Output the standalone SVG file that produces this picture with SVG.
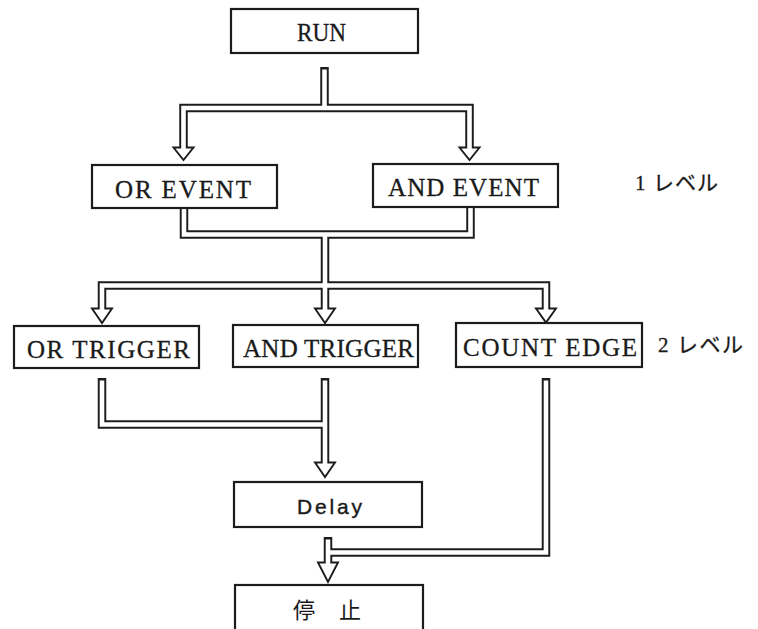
<svg xmlns="http://www.w3.org/2000/svg" width="758" height="629" viewBox="0 0 758 629">
  <style>
    .bg { fill: #ffffff; }
    .box { fill: #ffffff; stroke: #1c1c1c; stroke-width: 2.2; }
    .pipe-out { fill: none; stroke: #1c1c1c; stroke-width: 8.5; stroke-linejoin: miter; stroke-linecap: butt; }
    .pipe-in { fill: none; stroke: #ffffff; stroke-width: 4.6; stroke-linejoin: miter; stroke-linecap: butt; }
    .head { fill: #ffffff; stroke: #1c1c1c; stroke-width: 1.9; stroke-linejoin: miter; }
    .lbl { font-family: "Liberation Serif", "Times New Roman", serif; font-size: 25px; fill: #1a1a1a; stroke: #1a1a1a; stroke-width: 0.3; }
    .lbl-sans { font-family: "Liberation Sans", Arial, sans-serif; font-size: 21px; fill: #1a1a1a; stroke: #1a1a1a; stroke-width: 0.4; }
    .lbl-cjk { font-family: "Noto Sans CJK JP", sans-serif; font-size: 22px; fill: #1a1a1a; }
    .level { font-family: "Liberation Serif", "Noto Sans CJK JP", serif; font-size: 21px; fill: #1a1a1a; stroke: #1a1a1a; stroke-width: 0.3; }
  </style>

  <rect class="bg" x="0" y="0" width="758" height="629"/>

  <!-- double-line pipes: dark outer stroke, arrow heads, then white core -->
  <g id="connectors">
    <g class="pipe-out">
      <path d="M324.5,67 V108"/>
      <path d="M183.5,148 V108 H469.5 V148"/>
      <path d="M184,208 V234.5 H470.5 V207"/>
      <path d="M325,234.5 V309"/>
      <path d="M102,309 V285.5 H546 V309"/>
      <path d="M102,378 V424.5 H325"/>
      <path d="M325,378 V463"/>
      <path d="M328,537 V563"/>
      <path d="M546,378 V552.5 H328"/>
    </g>
    <g class="head">
      <polygon points="173.5,147.5 193.5,147.5 183.5,160"/>
      <polygon points="459.5,147.5 479.5,147.5 469.5,160"/>
      <polygon points="92,308.5 112,308.5 102,323"/>
      <polygon points="315,308.5 335,308.5 325,323"/>
      <polygon points="536,308.5 556,308.5 546,322.5"/>
      <polygon points="315,462.5 335,462.5 325,477"/>
      <polygon points="318,562.5 338,562.5 328,582"/>
    </g>
    <g class="pipe-in">
      <path d="M324.5,69.5 V108"/>
      <path d="M183.5,149.5 V108 H469.5 V149.5"/>
      <path d="M184,206 V234.5 H470.5 V206"/>
      <path d="M325,234.5 V310.5"/>
      <path d="M102,310.5 V285.5 H546 V310.5"/>
      <path d="M102,380.5 V424.5 H325"/>
      <path d="M325,380.5 V464.5"/>
      <path d="M328,539.5 V564.5"/>
      <path d="M546,380.5 V552.5 H328"/>
    </g>
  </g>

  <g id="run">
    <rect class="box" x="231" y="9" width="187" height="44"/>
    <text class="lbl" x="297" y="41" textLength="49" lengthAdjust="spacingAndGlyphs">RUN</text>
  </g>

  <g id="or-event">
    <rect class="box" x="92" y="165" width="185" height="43"/>
    <text class="lbl" x="115" y="198" textLength="136" lengthAdjust="spacing">OR EVENT</text>
  </g>

  <g id="and-event">
    <rect class="box" x="373" y="164" width="185" height="43"/>
    <text class="lbl" x="388" y="196" textLength="151" lengthAdjust="spacing">AND EVENT</text>
  </g>

  <g id="or-trigger">
    <rect class="box" x="14" y="326" width="185" height="42"/>
    <text class="lbl" x="27" y="358" textLength="163" lengthAdjust="spacing">OR TRIGGER</text>
  </g>

  <g id="and-trigger">
    <rect class="box" x="233" y="325" width="185" height="42"/>
    <text class="lbl" x="243" y="357" textLength="171" lengthAdjust="spacing">AND TRIGGER</text>
  </g>

  <g id="count-edge">
    <rect class="box" x="456" y="323" width="186" height="44"/>
    <text class="lbl" x="463" y="356" textLength="174" lengthAdjust="spacing">COUNT EDGE</text>
  </g>

  <g id="delay">
    <rect class="box" x="234" y="482" width="188" height="45"/>
    <text class="lbl-sans" x="297" y="514" textLength="65" lengthAdjust="spacing">Delay</text>
  </g>

  <g id="stop">
    <rect class="box" x="235" y="585" width="188" height="60"/>
    <text class="lbl-cjk" x="293 339" y="618">停止</text>
  </g>

  <g id="level-labels">
    <text class="level" x="635" y="190" textLength="83" lengthAdjust="spacing">1 レベル</text>
    <text class="level" x="658" y="352" textLength="85" lengthAdjust="spacing">2 レベル</text>
  </g>
</svg>
